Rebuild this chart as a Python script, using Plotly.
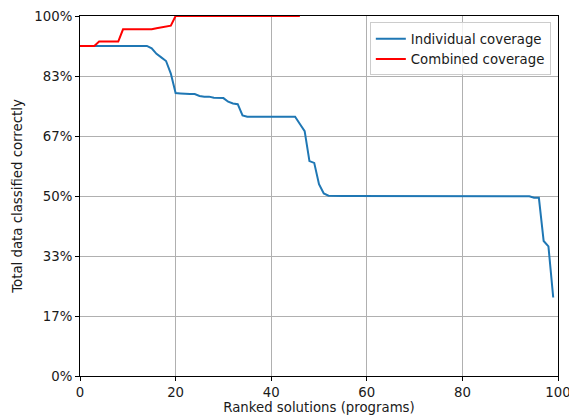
import plotly.graph_objects as go

# Individual coverage, ranked solutions 0..99
individual = (
    [0.917] * 15
    + [0.91, 0.895, 0.885, 0.875, 0.84]            # 15-19
    + [0.786, 0.785, 0.783, 0.783, 0.783,           # 20-24
       0.778, 0.776, 0.776, 0.773, 0.773,           # 25-29
       0.772, 0.762, 0.757, 0.755, 0.724]           # 30-34
    + [0.72] * 11                                   # 35-45
    + [0.70, 0.68, 0.597, 0.592, 0.533, 0.507, 0.501]  # 46-52
    + [0.50] * 41                                   # 53-93
    + [0.499, 0.495, 0.495, 0.375, 0.36, 0.218]     # 94-99
)
ranks_individual = list(range(len(individual)))

# Combined coverage, ranked solutions 0..46
combined = (
    [0.917] * 4
    + [0.929] * 5                                   # 4-8
    + [0.963] * 7                                   # 9-15
    + [0.966, 0.968, 0.97, 0.973]                   # 16-19
    + [1.0] * 27                                    # 20-46
)
ranks_combined = list(range(len(combined)))

y_tick_vals = [0, 1/6, 2/6, 3/6, 4/6, 5/6, 1]
y_tick_text = ["0%", "17%", "33%", "50%", "67%", "83%", "100%"]
x_tick_vals = [0, 20, 40, 60, 80, 100]

fig = go.Figure()
fig.add_trace(go.Scatter(x=ranks_individual, y=individual, mode="lines",
                         name="Individual coverage",
                         line=dict(color="#1f77b4", width=2)))
fig.add_trace(go.Scatter(x=ranks_combined, y=combined, mode="lines",
                         name="Combined coverage",
                         line=dict(color="#ff0000", width=2)))

font = "DejaVu Sans"
fs = 13.3
txt = "#1a1a1a"
fig.update_layout(
    width=569, height=415,
    margin=dict(l=80, r=11, t=16, b=39),
    paper_bgcolor="white", plot_bgcolor="white",
    font=dict(family=font, size=fs, color=txt),
    showlegend=True,
    legend=dict(x=0.985, y=0.982, xanchor="right", yanchor="top",
                bgcolor="rgba(255,255,255,0.8)", bordercolor="#cccccc",
                borderwidth=1, font=dict(size=fs, color=txt),
                tracegroupgap=0),
    xaxis=dict(range=[0, 100], tickvals=x_tick_vals, automargin=False,
               ticklabeloverflow="allow",
               showgrid=True, gridcolor="#b0b0b0", gridwidth=1,
               showline=True, linecolor="black", linewidth=1, mirror=True,
               ticks="outside", ticklen=4, tickcolor="black",
               zeroline=False,
               title=dict(text="Ranked solutions (programs)", standoff=4,
                          font=dict(size=fs))),
    yaxis=dict(range=[0, 1], tickvals=y_tick_vals, ticktext=y_tick_text,
               automargin=False, ticklabeloverflow="allow",
               showgrid=True, gridcolor="#b0b0b0", gridwidth=1,
               showline=True, linecolor="black", linewidth=1, mirror=True,
               ticks="outside", ticklen=4, tickcolor="black",
               zeroline=False,
               title=dict(text="Total data classified correctly", standoff=8,
                          font=dict(size=fs))),
)

fig.write_html("out.html",
               config={"displayModeBar": False},
               post_script="document.body.style.margin='0';"
                           "document.body.style.padding='0';")
